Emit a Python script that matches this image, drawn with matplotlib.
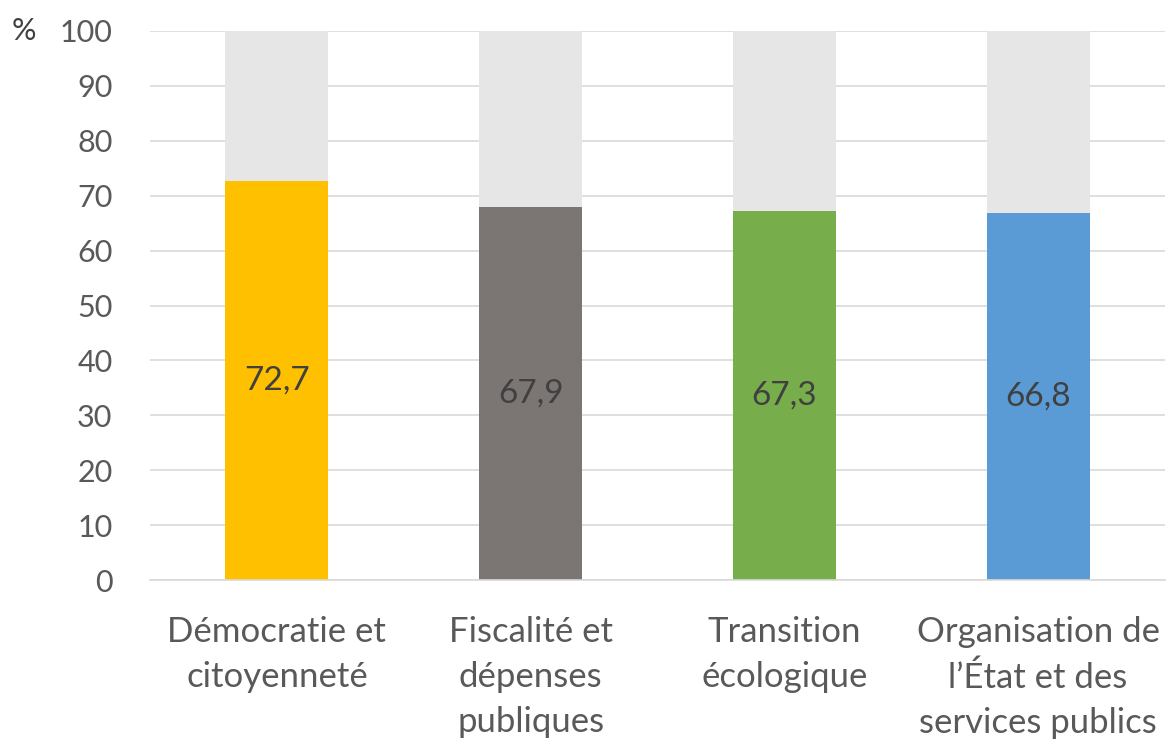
import matplotlib
matplotlib.use("Agg")
import matplotlib.pyplot as plt

categories = ["Démocratie et\ncitoyenneté", "Fiscalité et\ndépenses\npubliques",
              "Transition\nécologique", "Organisation de\nl’État et des\nservices publics"]
values = [72.7, 67.9, 67.3, 66.8]
labels = ["72,7", "67,9", "67,3", "66,8"]
colors = ["#FFC000", "#7B7574", "#77AD4B", "#5B9BD5"]
total = 100
yticks = [0, 10, 20, 30, 40, 50, 60, 70, 80, 90, 100]

plt.rcParams['font.family'] = ['Lato', 'DejaVu Sans']

fig = plt.figure(figsize=(11.68, 7.45), dpi=100)
ax = fig.add_axes([150/1168, 1-580/745, 1015/1168, 549/745])

x = list(range(len(categories)))
rest = [total - v for v in values]
ax.bar(x, values, width=0.405, color=colors, zorder=3)
ax.bar(x, rest, bottom=values, width=0.405, color="#E7E6E6", zorder=3)
for xi, v, lab in zip(x, values, labels):
    ax.text(xi, v/2, lab, ha="center", va="center", fontsize=24, color="#404040", zorder=4)

ax.set_xlim(-0.5, len(categories)-0.5)
ax.set_ylim(0, 100)
ax.set_yticks(yticks)
ax.set_yticklabels([str(t) for t in yticks], fontsize=22, color="#595959")
ax.set_xticks(x)
ax.set_xticklabels(categories, fontsize=25, color="#595959", linespacing=1.5, va="top")
ax.tick_params(axis="both", length=0)
ax.tick_params(axis="y", pad=27)
ax.tick_params(axis="x", pad=26)
ax.grid(axis="y", color="#D9D9D9", linewidth=1.2, zorder=0)
for s in ["top", "right", "left"]:
    ax.spines[s].set_visible(False)
ax.spines["bottom"].set_color("#D9D9D9")
ax.spines["bottom"].set_linewidth(1.2)
ax.spines["bottom"].set_zorder(5)
fig.text(12/1168, 1-31/745, "%", fontsize=22, color="#404040", ha="left", va="center")

fig.savefig("out.png", dpi=100)
